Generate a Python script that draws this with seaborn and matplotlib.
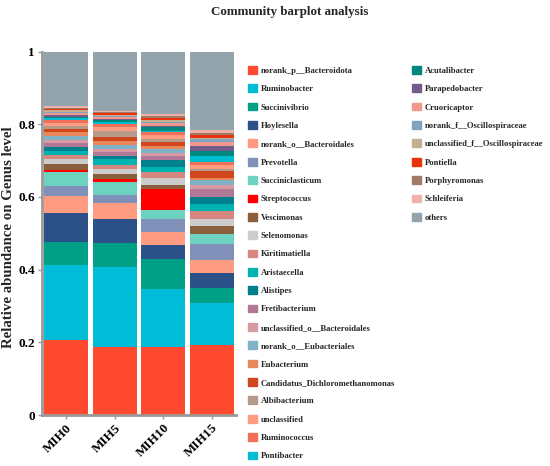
import matplotlib
matplotlib.use('Agg')
import matplotlib.pyplot as plt
import matplotlib.patches as mpatches
import numpy as np
import pandas as pd
import seaborn as sns

# samples and genera (bottom of the stack first)
samples = ['MIH0', 'MIH5', 'MIH10', 'MIH15']
genera = ['norank_p__Bacteroidota', 'Ruminobacter', 'Succinivibrio', 'Hoylesella',
          'norank_o__Bacteroidales', 'Prevotella', 'Succiniclasticum', 'Streptococcus',
          'Vescimonas', 'Selenomonas', 'Kiritimatiella', 'Aristaecella', 'Alistipes',
          'Fretibacterium', 'unclassified_o__Bacteroidales', 'norank_o__Eubacteriales',
          'Eubacterium', 'Candidatus_Dichloromethanomonas', 'Albibacterium', 'unclassified',
          'Ruminococcus', 'Pontibacter', 'Acutalibacter', 'Parapedobacter', 'Cruoricaptor',
          'norank_f__Oscillospiraceae', 'unclassified_f__Oscillospiraceae', 'Pontiella',
          'Porphyromonas', 'Schleiferia', 'others']
colors = ['#FF4A30', '#00BCD6', '#00A087', '#2C5189', '#FF9B80', '#8090B8', '#6DD3C0',
          '#FF0000', '#8B5E3C', '#CCCCCC', '#D68880', '#00B3B3', '#007F8C', '#B07896',
          '#D89AA2', '#7FB2C5', '#E8875A', '#D2461E', '#B59A8A', '#FF9C82', '#F2705A',
          '#00BCD0', '#00887E', '#735C8C', '#F0988C', '#80A3C0', '#C2B090', '#E8340E',
          '#A07C66', '#EDB3AA', '#94A4AC']

# relative abundance per sample, same order as genera
mih0 = [0.207, 0.206, 0.064, 0.080, 0.046, 0.027, 0.038, 0.007, 0.015, 0.013, 0.011,
        0.013, 0.011, 0.010, 0.009, 0.010, 0.012, 0.009, 0.006, 0.010, 0.008, 0.004,
        0.005, 0.004, 0.005, 0.004, 0.004, 0.004, 0.003, 0.004, 0.151]
mih5 = [0.186, 0.220, 0.066, 0.066, 0.044, 0.024, 0.035, 0.007, 0.015, 0.013, 0.013,
        0.014, 0.010, 0.010, 0.010, 0.011, 0.011, 0.009, 0.018, 0.011, 0.008, 0.005,
        0.005, 0.003, 0.005, 0.004, 0.003, 0.004, 0.003, 0.004, 0.163]
mih10 = [0.186, 0.160, 0.083, 0.040, 0.034, 0.036, 0.025, 0.057, 0.013, 0.018, 0.016,
         0.015, 0.018, 0.011, 0.010, 0.009, 0.009, 0.011, 0.007, 0.012, 0.008, 0.004,
         0.010, 0.004, 0.006, 0.005, 0.004, 0.006, 0.006, 0.005, 0.172]
mih15 = [0.193, 0.114, 0.042, 0.041, 0.036, 0.044, 0.028, 0.001, 0.022, 0.018, 0.023,
         0.018, 0.019, 0.023, 0.011, 0.013, 0.007, 0.019, 0.005, 0.010, 0.010, 0.016,
         0.014, 0.013, 0.010, 0.008, 0.004, 0.008, 0.007, 0.007, 0.214]

df = pd.DataFrame({'MIH0': mih0, 'MIH5': mih5, 'MIH10': mih10, 'MIH15': mih15}, index=genera)
cum = df.cumsum()

sns.set_style('ticks')
plt.rcParams['font.family'] = ['Liberation Serif', 'DejaVu Serif']
plt.rcParams['font.weight'] = 'bold'

fig = plt.figure(figsize=(5.5, 4.66), dpi=100)
ax = fig.add_axes([42 / 550, 51 / 466, 194 / 550, 363.5 / 466])

# draw tallest cumulative first, then overlay the lower ones
for i in reversed(range(len(genera))):
    sns.barplot(x=samples, y=cum.iloc[i].values, color=colors[i], width=0.9,
                saturation=1, linewidth=0, ax=ax)

ax.set_xlim(-0.5, 3.5)
ax.set_ylim(0, 1)
ax.set_yticks([0, 0.2, 0.4, 0.6, 0.8, 1])
ax.set_yticklabels(['0', '0.2', '0.4', '0.6', '0.8', '1'], fontsize=9.5, fontweight='bold')
ax.set_xticks(range(4))
ax.set_xticklabels(samples, rotation=45, ha='right', rotation_mode='anchor',
                   fontsize=9.5, fontweight='bold')
ax.set_xlabel('')
ax.set_ylabel('')
for s in ['top', 'right']:
    ax.spines[s].set_visible(False)
for s in ['left', 'bottom']:
    ax.spines[s].set_color('#999999')
    ax.spines[s].set_linewidth(2)
ax.tick_params(axis='both', colors='#999999', length=3, width=1, labelcolor='black', pad=2)

fig.text(290 / 550, 1 - 12 / 466, 'Community barplot analysis', ha='center', va='center',
         fontsize=9.4, fontweight='bold')
fig.text(9 / 550, 1 - 237 / 466, 'Relative abundance on Genus level', rotation=90,
         ha='center', va='center', fontsize=10.7, fontweight='bold')

handles = [mpatches.Patch(color=c, label=g) for g, c in zip(genera, colors)]
leg_kw = dict(frameon=False, handlelength=1.0, handleheight=1.0,
              handletextpad=0.5, labelspacing=1.11, borderpad=0, borderaxespad=0,
              loc='upper left', prop={'weight': 'bold', 'size': 6.2})
leg1 = fig.legend(handles=handles[:22], bbox_to_anchor=(248 / 550, 1 - 66 / 466), **leg_kw)
leg2 = fig.legend(handles=handles[22:], bbox_to_anchor=(412 / 550, 1 - 66 / 466), **leg_kw)

fig.savefig('out.png', dpi=100)
